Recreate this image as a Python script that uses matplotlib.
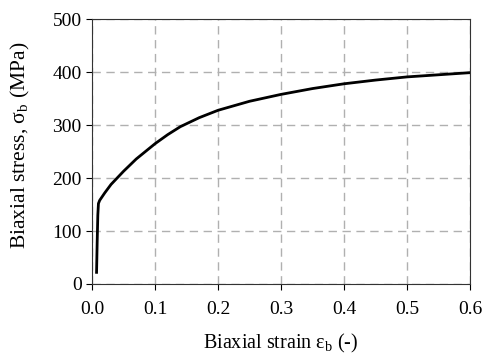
import matplotlib.pyplot as plt

# values
strain = [0.007, 0.008, 0.009, 0.010, 0.012, 0.02, 0.03, 0.05, 0.07, 0.10,
          0.12, 0.14, 0.17, 0.20, 0.25, 0.30, 0.35, 0.40, 0.45, 0.50,
          0.55, 0.60]
stress = [22, 80, 130, 152, 158, 172, 188, 213, 236, 265,
          282, 297, 314, 328, 345, 358, 369, 378, 385, 391,
          395, 399]

xticks = [0.0, 0.1, 0.2, 0.3, 0.4, 0.5, 0.6]
yticks = [0, 100, 200, 300, 400, 500]

plt.rcParams['font.family'] = ['Liberation Serif', 'DejaVu Serif']
plt.rcParams['mathtext.fontset'] = 'custom'
plt.rcParams['mathtext.rm'] = 'Liberation Serif'

fig = plt.figure(figsize=(4.85, 3.55), dpi=100)
ax = fig.add_axes([0.19, 0.2, 0.779, 0.746])

ax.plot(strain, stress, color='black', lw=2)

ax.set_xlim(0, 0.6)
ax.set_ylim(0, 500)
ax.set_xticks(xticks)
ax.set_yticks(yticks)
ax.set_xticklabels([f"{t:.1f}" for t in xticks])
ax.grid(True, color='#b0b0b0', ls=(0, (6, 4)), lw=1)
ax.tick_params(labelsize=14, direction='out', length=4, width=0.8)
ax.tick_params(axis='x', pad=8)
for s in ax.spines.values():
    s.set_linewidth(0.8)
    s.set_color('#333333')

ax.set_xlabel("Biaxial strain ε$_\\mathrm{b}$ (-)", fontsize=14.5, labelpad=10)
ax.set_ylabel("Biaxial stress, σ$_\\mathrm{b}$ (MPa)", fontsize=15.5)
ax.yaxis.set_label_coords(-0.16, 0.525)

fig.savefig("out.png", dpi=100)
